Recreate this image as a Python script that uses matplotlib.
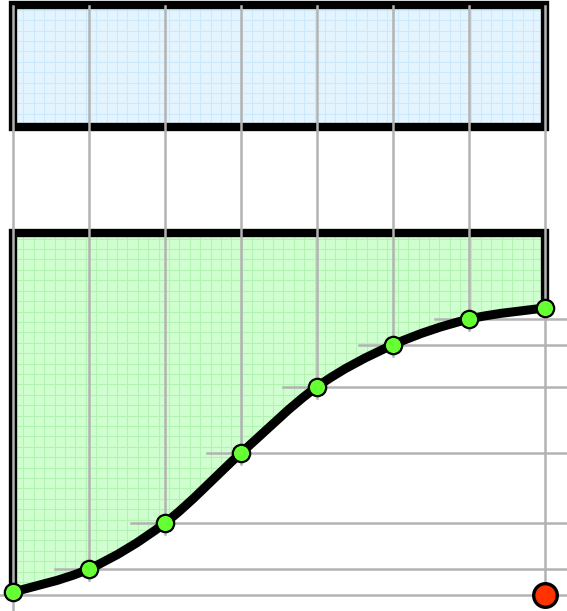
import numpy as np
import matplotlib
matplotlib.use("Agg")
import matplotlib.pyplot as plt
from matplotlib.path import Path
from matplotlib.patches import PathPatch, Rectangle
from matplotlib.collections import LineCollection

# cumulative share (%) at each step
steps = [0, 1, 2, 3, 4, 5, 6, 7]
share = [0.8, 7.2, 19.9, 39.2, 57.5, 69.1, 76.2, 79.3]
# end marker
end_step = 7
end_value = 0.0
# band at the top
band_lo, band_hi = 129.3, 163.0
top = 100.0

fig = plt.figure(figsize=(5.67, 6.11), dpi=100)
ax = fig.add_axes([0, 0, 1, 1])
ax.set_xlim(-13 / 76, 554 / 76)
ax.set_ylim(-16 / 3.62, 595 / 3.62)
ax.axis("off")

xs = np.array(steps, float)
ys = np.array(share, float)


def smooth_codes(x, y):
    # catmull-rom through the points, as bezier segments
    px = np.concatenate([[x[0]], x, [x[-1]]])
    py = np.concatenate([[y[0]], y, [y[-1]]])
    verts = [(x[0], y[0])]
    codes = [Path.MOVETO]
    for i in range(1, len(px) - 2):
        c1 = (px[i] + (px[i + 1] - px[i - 1]) / 6, py[i] + (py[i + 1] - py[i - 1]) / 6)
        c2 = (px[i + 1] - (px[i + 2] - px[i]) / 6, py[i + 1] - (py[i + 2] - py[i]) / 6)
        verts += [c1, c2, (px[i + 1], py[i + 1])]
        codes += [Path.CURVE4] * 3
    return verts, codes


cverts, ccodes = smooth_codes(xs, ys)

# green area above the curve
gverts = cverts + [(xs[-1], top), (xs[0], top), (xs[0], ys[0])]
gcodes = ccodes + [Path.LINETO, Path.LINETO, Path.CLOSEPOLY]
green = PathPatch(Path(gverts, gcodes), facecolor="#cfffcf", edgecolor="none", zorder=1)
ax.add_patch(green)

blue = Rectangle((xs[0], band_lo), xs[-1] - xs[0], band_hi - band_lo,
                 facecolor="#e3f4ff", edgecolor="none", zorder=1)
ax.add_patch(blue)

# paper grid inside the fills
dx, dy = 10.4 / 76, 10.4 / 3.62
gx = np.arange(xs[0], xs[-1], dx)
gy = np.arange(-5, 170, dy)
for patch, col in [(green, "#b2f2b2"), (blue, "#cce8fb")]:
    segs = [[(v, -5), (v, 170)] for v in gx] + [[(-1, v), (8, v)] for v in gy]
    lc = LineCollection(segs, colors=col, linewidths=0.75, zorder=1.5)
    ax.add_collection(lc, autolim=False)
    lc.set_clip_path(patch)

# outlines
ax.add_patch(Rectangle((xs[0], band_lo), xs[-1] - xs[0], band_hi - band_lo,
                       facecolor="none", edgecolor="black", lw=6, zorder=2))
ax.plot([xs[0], xs[0], xs[-1], xs[-1]], [ys[0], top, top, ys[-1]],
        color="black", lw=6, solid_joinstyle="miter", zorder=2)

# guide lines
for i, (x, y) in enumerate(zip(xs, ys)):
    lo = -4.5 if i == 0 else (end_value if x == end_step else y - 3)
    ax.plot([x, x], [lo, 162.7], color="#b3b3b3", lw=1.8, zorder=3)
    if 0 < i < len(xs) - 1:
        ax.plot([x - 0.45, 7.5], [y, y], color="#b3b3b3", lw=1.8, zorder=3)
ax.plot([-1, 7.5], [end_value, end_value], color="#b3b3b3", lw=1.8, zorder=3)

# the curve and points
ax.add_patch(PathPatch(Path(cverts, ccodes), facecolor="none", edgecolor="black",
                       lw=6.5, capstyle="round", joinstyle="round", zorder=4))
ax.plot(xs, ys, "o", ms=12.5, mfc="#66ff33", mec="black", mew=1.6, zorder=5, clip_on=False)
ax.plot([end_step], [end_value], "o", ms=17, mfc="#ff3300", mec="black", mew=2.4,
        zorder=5, clip_on=False)

fig.savefig("out.png", dpi=100)
